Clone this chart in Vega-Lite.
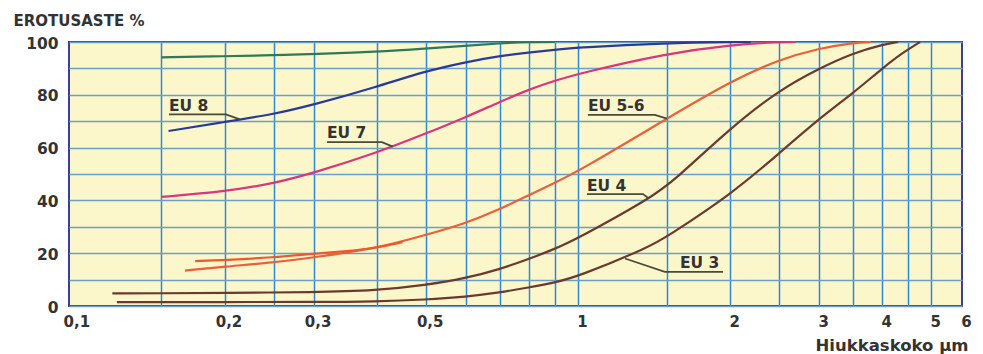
{
  "$schema": "https://vega.github.io/schema/vega-lite/v6.json",
  "width": 893,
  "height": 264,
  "autosize": {"type": "none"},
  "padding": {"left": 69, "top": 42, "right": 21, "bottom": 48},
  "background": "#ffffff",
  "config": {
    "view": {"fill": "#fbf7cb", "stroke": "#3c3c99", "strokeWidth": 2},
    "font": "DejaVu Sans"
  },
  "datasets": {
    "curves": [
      {"series": "top", "x": 0.15, "y": 94.2},
      {"series": "top", "x": 0.2, "y": 94.6},
      {"series": "top", "x": 0.25, "y": 95.0},
      {"series": "top", "x": 0.3, "y": 95.4},
      {"series": "top", "x": 0.4, "y": 96.3},
      {"series": "top", "x": 0.5, "y": 97.5},
      {"series": "top", "x": 0.6, "y": 98.6},
      {"series": "top", "x": 0.7, "y": 99.5},
      {"series": "top", "x": 0.8, "y": 100},
      {"series": "top", "x": 0.9, "y": 100},

      {"series": "EU 8", "x": 0.155, "y": 66.3},
      {"series": "EU 8", "x": 0.2, "y": 69.7},
      {"series": "EU 8", "x": 0.25, "y": 72.6},
      {"series": "EU 8", "x": 0.3, "y": 76.2},
      {"series": "EU 8", "x": 0.4, "y": 83.0},
      {"series": "EU 8", "x": 0.5, "y": 89.0},
      {"series": "EU 8", "x": 0.6, "y": 92.4},
      {"series": "EU 8", "x": 0.7, "y": 94.7},
      {"series": "EU 8", "x": 0.8, "y": 96.0},
      {"series": "EU 8", "x": 0.9, "y": 97.1},
      {"series": "EU 8", "x": 1.0, "y": 97.9},
      {"series": "EU 8", "x": 1.5, "y": 99.6},
      {"series": "EU 8", "x": 2.0, "y": 100},
      {"series": "EU 8", "x": 2.2, "y": 100},

      {"series": "EU 7", "x": 0.15, "y": 41.3},
      {"series": "EU 7", "x": 0.2, "y": 43.3},
      {"series": "EU 7", "x": 0.25, "y": 46.4},
      {"series": "EU 7", "x": 0.3, "y": 50.4},
      {"series": "EU 7", "x": 0.4, "y": 58.0},
      {"series": "EU 7", "x": 0.5, "y": 65.3},
      {"series": "EU 7", "x": 0.6, "y": 71.5},
      {"series": "EU 7", "x": 0.7, "y": 77.3},
      {"series": "EU 7", "x": 0.8, "y": 82.0},
      {"series": "EU 7", "x": 0.9, "y": 85.3},
      {"series": "EU 7", "x": 1.0, "y": 88.0},
      {"series": "EU 7", "x": 1.5, "y": 95.7},
      {"series": "EU 7", "x": 2.0, "y": 98.9},
      {"series": "EU 7", "x": 2.5, "y": 100},
      {"series": "EU 7", "x": 2.7, "y": 100},

      {"series": "EU 5", "x": 0.167, "y": 13.4},
      {"series": "EU 5", "x": 0.2, "y": 14.9},
      {"series": "EU 5", "x": 0.25, "y": 16.5},
      {"series": "EU 5", "x": 0.3, "y": 18.4},
      {"series": "EU 5", "x": 0.4, "y": 21.8},
      {"series": "EU 5", "x": 0.5, "y": 26.9},
      {"series": "EU 5", "x": 0.6, "y": 31.3},
      {"series": "EU 5", "x": 0.7, "y": 36.6},
      {"series": "EU 5", "x": 0.8, "y": 42.0},
      {"series": "EU 5", "x": 0.9, "y": 46.7},
      {"series": "EU 5", "x": 1.0, "y": 50.9},
      {"series": "EU 5", "x": 1.5, "y": 71.0},
      {"series": "EU 5", "x": 2.0, "y": 85.0},
      {"series": "EU 5", "x": 2.5, "y": 93.4},
      {"series": "EU 5", "x": 3.0, "y": 97.6},
      {"series": "EU 5", "x": 3.5, "y": 99.7},
      {"series": "EU 5", "x": 3.8, "y": 100},

      {"series": "EU 6", "x": 0.175, "y": 17.0},
      {"series": "EU 6", "x": 0.2, "y": 17.4},
      {"series": "EU 6", "x": 0.25, "y": 18.4},
      {"series": "EU 6", "x": 0.3, "y": 19.8},
      {"series": "EU 6", "x": 0.35, "y": 20.8},
      {"series": "EU 6", "x": 0.4, "y": 22.0},
      {"series": "EU 6", "x": 0.45, "y": 24.2},

      {"series": "EU 4", "x": 0.12, "y": 4.8},
      {"series": "EU 4", "x": 0.15, "y": 4.8},
      {"series": "EU 4", "x": 0.2, "y": 5.0},
      {"series": "EU 4", "x": 0.3, "y": 5.2},
      {"series": "EU 4", "x": 0.4, "y": 5.9},
      {"series": "EU 4", "x": 0.5, "y": 7.9},
      {"series": "EU 4", "x": 0.6, "y": 10.5},
      {"series": "EU 4", "x": 0.7, "y": 13.9},
      {"series": "EU 4", "x": 0.8, "y": 17.8},
      {"series": "EU 4", "x": 0.9, "y": 21.6},
      {"series": "EU 4", "x": 1.0, "y": 25.6},
      {"series": "EU 4", "x": 1.39, "y": 40.8},
      {"series": "EU 4", "x": 1.55, "y": 47.5},
      {"series": "EU 4", "x": 2.0, "y": 67.3},
      {"series": "EU 4", "x": 2.5, "y": 81.8},
      {"series": "EU 4", "x": 3.0, "y": 90.0},
      {"series": "EU 4", "x": 3.5, "y": 95.8},
      {"series": "EU 4", "x": 4.0, "y": 99.0},
      {"series": "EU 4", "x": 4.3, "y": 100},

      {"series": "EU 3", "x": 0.1225, "y": 1.5},
      {"series": "EU 3", "x": 0.2, "y": 1.5},
      {"series": "EU 3", "x": 0.3, "y": 1.5},
      {"series": "EU 3", "x": 0.4, "y": 1.7},
      {"series": "EU 3", "x": 0.5, "y": 2.4},
      {"series": "EU 3", "x": 0.6, "y": 3.5},
      {"series": "EU 3", "x": 0.7, "y": 5.1},
      {"series": "EU 3", "x": 0.8, "y": 7.0},
      {"series": "EU 3", "x": 0.9, "y": 8.9},
      {"series": "EU 3", "x": 1.0, "y": 11.1},
      {"series": "EU 3", "x": 1.39, "y": 22.5},
      {"series": "EU 3", "x": 1.5, "y": 26.3},
      {"series": "EU 3", "x": 2.0, "y": 42.0},
      {"series": "EU 3", "x": 2.5, "y": 57.8},
      {"series": "EU 3", "x": 3.0, "y": 71.0},
      {"series": "EU 3", "x": 3.5, "y": 80.6},
      {"series": "EU 3", "x": 4.0, "y": 90.0},
      {"series": "EU 3", "x": 4.37, "y": 95.7},
      {"series": "EU 3", "x": 4.75, "y": 100}
    ],
    "labels": [
      {"label": "EU 8", "x": 0.1553, "y": 73.9},
      {"label": "EU 7", "x": 0.3189, "y": 63.6},
      {"label": "EU 5-6", "x": 1.0466, "y": 73.9},
      {"label": "EU 4", "x": 1.042, "y": 43.6},
      {"label": "EU 3", "x": 1.591, "y": 14.4}
    ],
    "leaders": [
      {"label": "EU 8", "x": 0.1553, "y": 72.6},
      {"label": "EU 8", "x": 0.2012, "y": 72.6},
      {"label": "EU 8", "x": 0.2146, "y": 70.7},
      {"label": "EU 7", "x": 0.3189, "y": 62.1},
      {"label": "EU 7", "x": 0.4096, "y": 62.1},
      {"label": "EU 7", "x": 0.4305, "y": 60.4},
      {"label": "EU 5-6", "x": 1.0466, "y": 72.4},
      {"label": "EU 5-6", "x": 1.42, "y": 72.4},
      {"label": "EU 5-6", "x": 1.5, "y": 71.0},
      {"label": "EU 4", "x": 1.042, "y": 42.4},
      {"label": "EU 4", "x": 1.345, "y": 42.4},
      {"label": "EU 4", "x": 1.375, "y": 41.0},
      {"label": "EU 3", "x": 1.239, "y": 18.0},
      {"label": "EU 3", "x": 1.486, "y": 12.9},
      {"label": "EU 3", "x": 1.936, "y": 12.9}
    ]
  },
  "encoding": {
    "x": {
      "field": "x",
      "type": "quantitative",
      "scale": {"type": "log", "domain": [0.0985, 5.75], "nice": false, "zero": false},
      "axis": {
        "values": [0.1, 0.15, 0.2, 0.25, 0.3, 0.4, 0.5, 0.6, 0.7, 0.8, 0.9, 1, 1.5, 2, 2.5, 3, 3.5, 4, 4.5, 5, 5.75],
        "labelExpr": "datum.value > 5.5 ? '6' : (indexof([0.1, 0.2, 0.3, 0.5, 1, 2, 3, 4, 5], datum.value) >= 0 ? replace(format(datum.value, '~g'), '.', ',') : '')",
        "grid": true,
        "gridColor": {"condition": {"test": "datum.value < 0.12 || datum.value > 5.5", "value": "transparent"}, "value": "#2a8ad6"},
        "gridWidth": 1.5,
        "gridOpacity": 1,
        "ticks": false,
        "domain": false,
        "labelFont": "DejaVu Sans",
        "labelFontWeight": "bold",
        "labelFontSize": 15,
        "labelColor": "#333333",
        "labelPadding": 8,
        "labelOffset": 4,
        "labelFlush": false,
        "labelOverlap": false,
        "labelBound": false,
        "title": "Hiukkaskoko µm",
        "titleFont": "DejaVu Sans",
        "titleFontSize": 16.5,
        "titleFontWeight": "bold",
        "titleColor": "#333333",
        "titleAnchor": "end",
        "titleAlign": "right",
        "titleBaseline": "alphabetic",
        "titleX": 899,
        "titleY": 44
      }
    },
    "y": {
      "field": "y",
      "type": "quantitative",
      "scale": {"domain": [0, 100], "nice": false, "zero": true},
      "axis": {
        "values": [0, 10, 20, 30, 40, 50, 60, 70, 80, 90, 100],
        "labelExpr": "datum.value % 20 == 0 ? datum.label : ''",
        "grid": true,
        "gridColor": "#6a9fc8",
        "gridWidth": 1.5,
        "gridOpacity": 1,
        "ticks": false,
        "domain": false,
        "labelFont": "DejaVu Sans",
        "labelFontWeight": "bold",
        "labelFontSize": 15.5,
        "labelColor": "#333333",
        "labelPadding": 11,
        "labelOffset": 1,
        "labelOverlap": false,
        "labelBound": false,
        "title": "EROTUSASTE %",
        "titleFont": "DejaVu Sans",
        "titleFontSize": 15,
        "titleFontWeight": "bold",
        "titleColor": "#333333",
        "titleAngle": 0,
        "titleAlign": "left",
        "titleBaseline": "alphabetic",
        "titleX": -56,
        "titleY": -17
      }
    }
  },
  "layer": [
    {
      "data": {"name": "curves"},
      "mark": {"type": "line", "interpolate": "basis", "strokeWidth": 2.2},
      "encoding": {
        "color": {
          "field": "series",
          "type": "nominal",
          "scale": {
            "domain": ["top", "EU 8", "EU 7", "EU 6", "EU 5", "EU 4", "EU 3"],
            "range": ["#2e7a58", "#2a3a98", "#d8367e", "#ea5a2c", "#e9603a", "#6b3a2e", "#6b3a2e"]
          },
          "legend": null
        }
      }
    },
    {
      "data": {"name": "leaders"},
      "mark": {"type": "line", "strokeWidth": 1.8, "color": "#4a4a3a"},
      "encoding": {"detail": {"field": "label", "type": "nominal"}}
    },
    {
      "data": {"name": "labels"},
      "mark": {"type": "text", "align": "left", "baseline": "alphabetic", "font": "DejaVu Sans", "fontSize": 15.5, "fontWeight": "bold", "color": "#333333"},
      "encoding": {"text": {"field": "label", "type": "nominal"}}
    }
  ]
}
